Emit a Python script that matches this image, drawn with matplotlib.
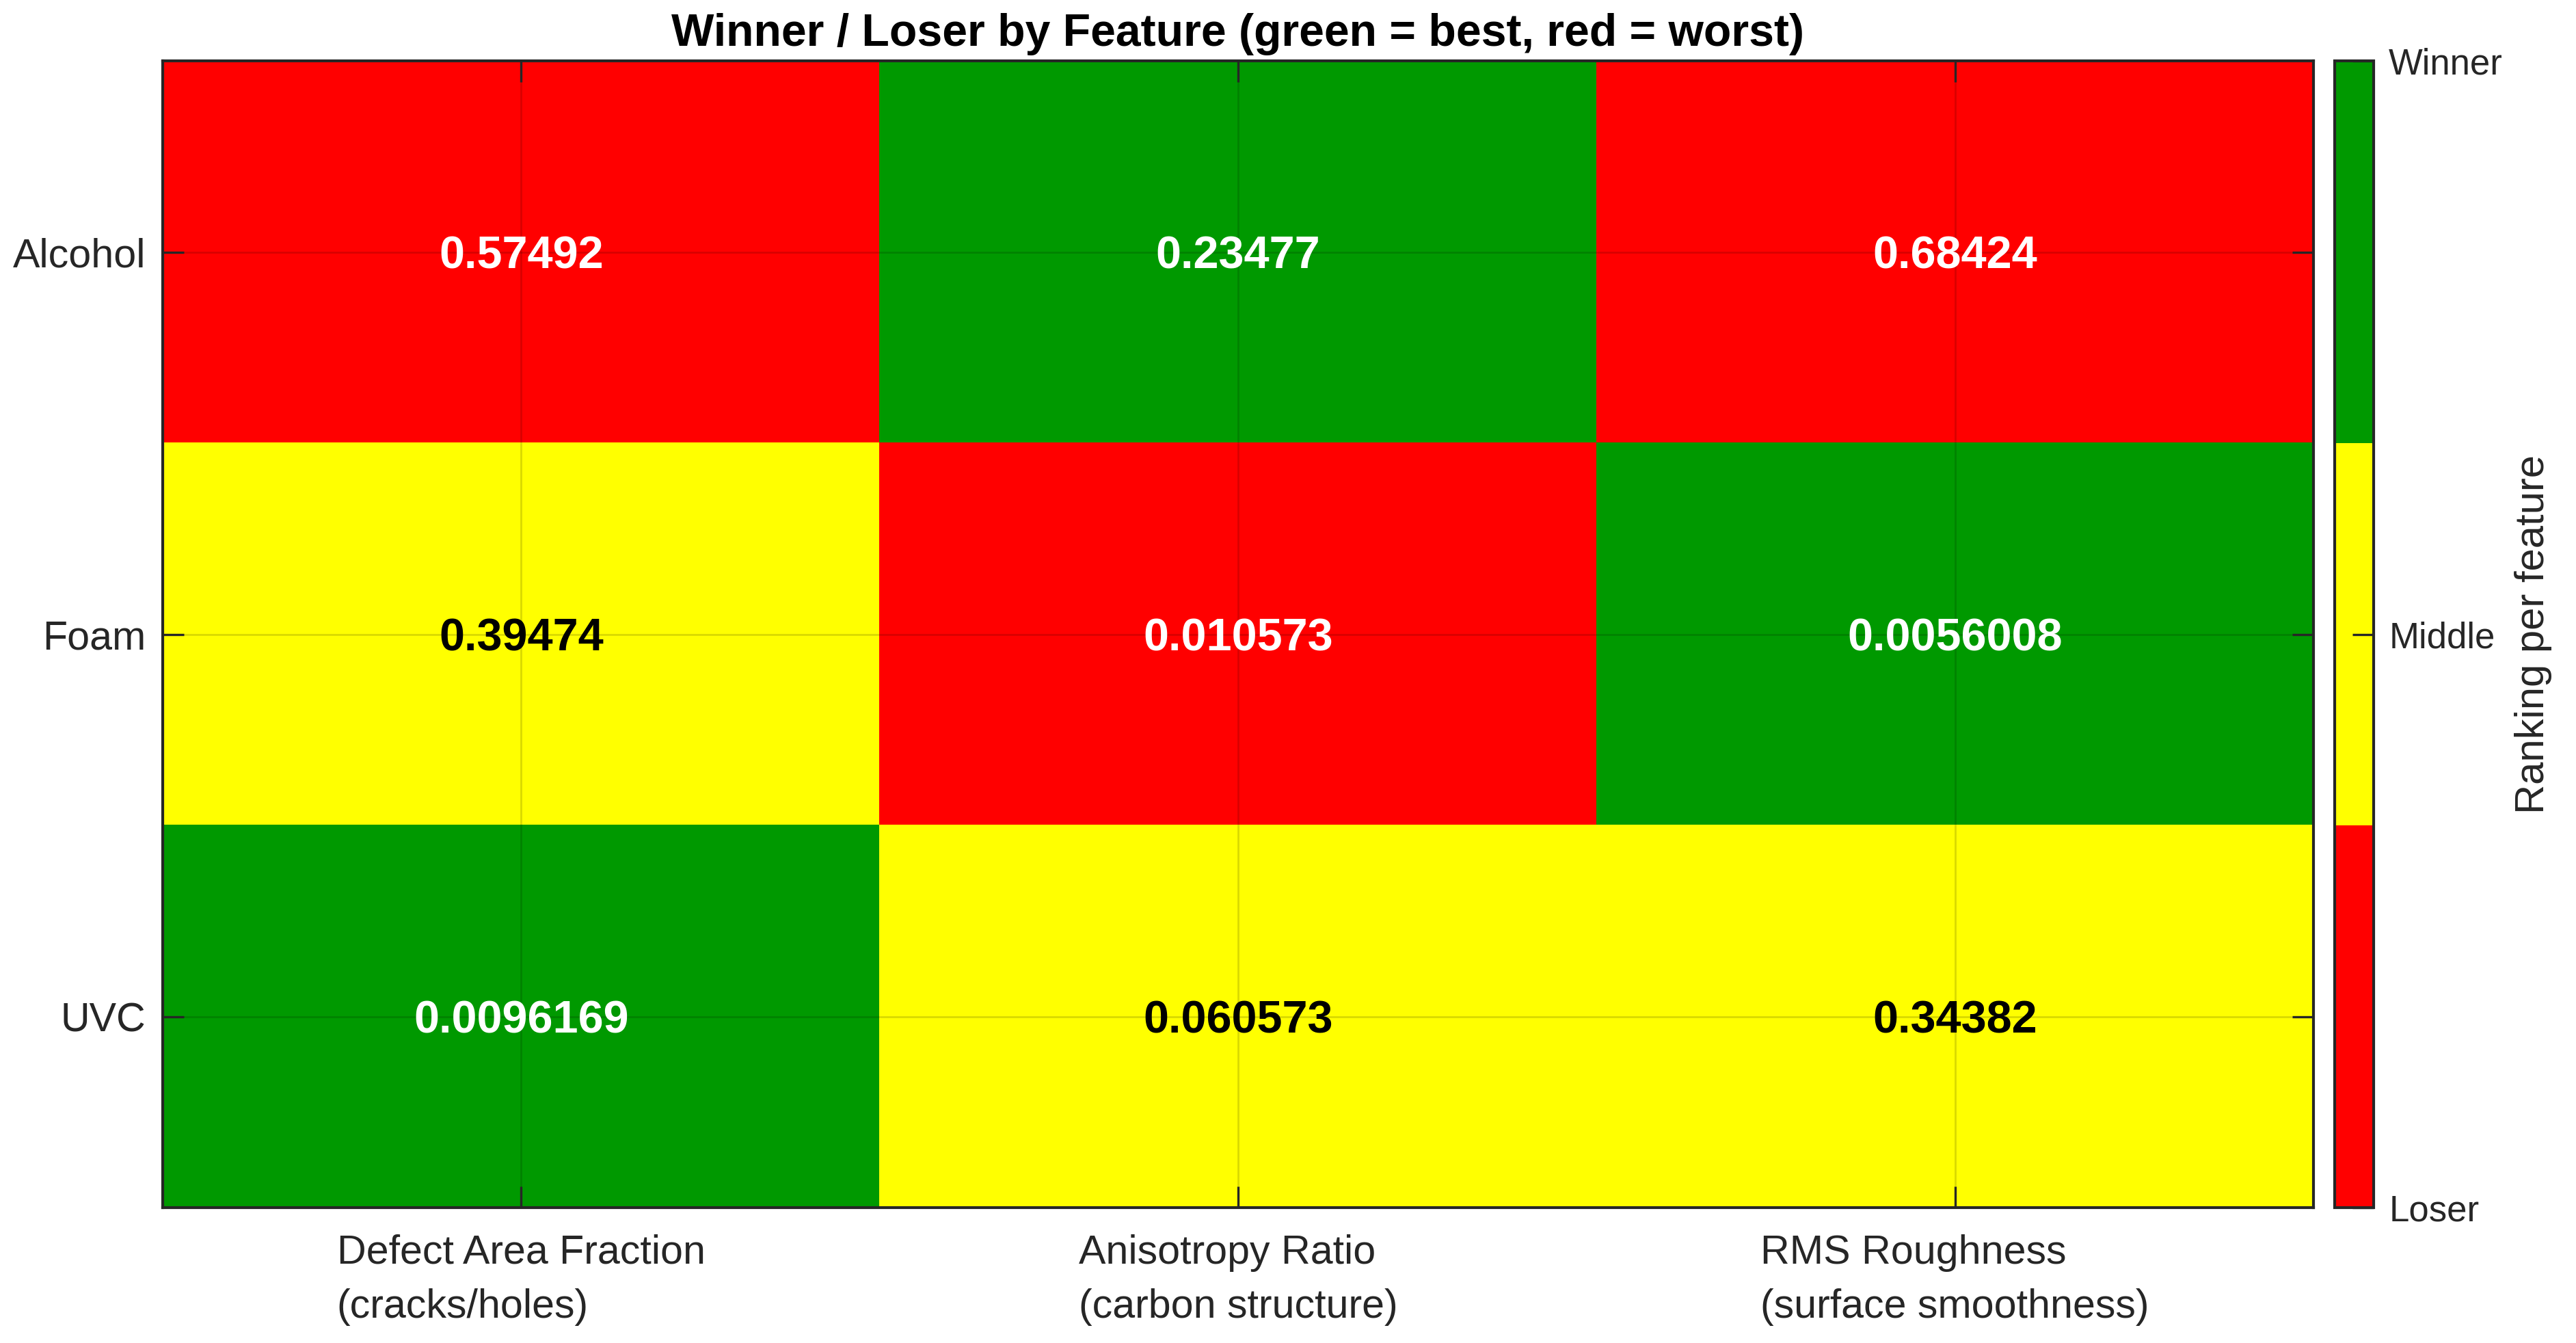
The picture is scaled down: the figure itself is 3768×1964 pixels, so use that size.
import matplotlib
matplotlib.use("Agg")
import matplotlib.pyplot as plt
from matplotlib.colors import ListedColormap
import numpy as np

plt.rcParams['font.family'] = ['Liberation Sans', 'DejaVu Sans']

treatments = ["Alcohol", "Foam", "UVC"]
features = ["Defect Area Fraction\n(cracks/holes)",
            "Anisotropy Ratio\n(carbon structure)",
            "RMS Roughness\n(surface smoothness)"]
values = [[0.57492, 0.23477, 0.68424],
          [0.39474, 0.010573, 0.0056008],
          [0.0096169, 0.060573, 0.34382]]
value_labels = [["0.57492", "0.23477", "0.68424"],
                ["0.39474", "0.010573", "0.0056008"],
                ["0.0096169", "0.060573", "0.34382"]]
# 1 = Loser, 2 = Middle, 3 = Winner
ranks = [[1, 3, 1],
         [2, 1, 3],
         [3, 2, 2]]
rank_labels = ["Loser", "Middle", "Winner"]
colors = ["#ff0000", "#ffff00", "#009900"]

W, H = 3768, 1964
dpi = 200
fig = plt.figure(figsize=(W / dpi, H / dpi), dpi=dpi)

ax = fig.add_axes([238 / W, 1 - 1766 / H, (3384 - 238) / W, (1766 - 89) / H])
cax = fig.add_axes([3415 / W, 1 - 1766 / H, 57 / W, (1766 - 89) / H])

cmap = ListedColormap(colors)
R = np.array(ranks)
im = ax.imshow(R, cmap=cmap, vmin=1, vmax=3, aspect='auto',
               extent=[0.5, 3.5, 3.5, 0.5], interpolation='nearest')

for i in range(len(treatments)):
    for j in range(len(features)):
        tc = 'black' if ranks[i][j] == 2 else 'white'
        ax.text(j + 1, i + 1, value_labels[i][j], ha='center', va='center_baseline',
                color=tc, fontsize=24, fontweight='bold')

ax.set_xticks([1, 2, 3])
ax.set_xticklabels(features, multialignment='left', linespacing=1.55)
ax.set_yticks([1, 2, 3])
ax.set_yticklabels(treatments)
ax.set_xlim(0.5, 3.5)
ax.set_ylim(3.5, 0.5)
ax.tick_params(axis='both', direction='in', length=11, width=1.2,
               color='#262626', labelsize=21.3, labelcolor='#262626',
               top=True, right=True)
ax.tick_params(axis='x', pad=14)
ax.tick_params(axis='y', pad=9)
ax.grid(True, color='black', alpha=0.15, linewidth=1.0)
ax.set_axisbelow(False)
for s in ax.spines.values():
    s.set_color('#262626')
    s.set_linewidth(1.5)

ax.set_title("Winner / Loser by Feature (green = best, red = worst)",
             fontsize=23.8, fontweight='bold', pad=8)

cb = fig.colorbar(im, cax=cax, ticks=[1, 2, 3])
cb.ax.set_yticklabels(rank_labels)
cb.ax.tick_params(direction='in', length=11, width=1.2, color='#262626',
                  labelsize=19, labelcolor='#262626', pad=8)
cb.outline.set_edgecolor('#262626')
cb.outline.set_linewidth(1.5)
cb.set_label("Ranking per feature", fontsize=21.5, color='#262626', labelpad=6)

fig.savefig("out.png", dpi=dpi, facecolor='white')
